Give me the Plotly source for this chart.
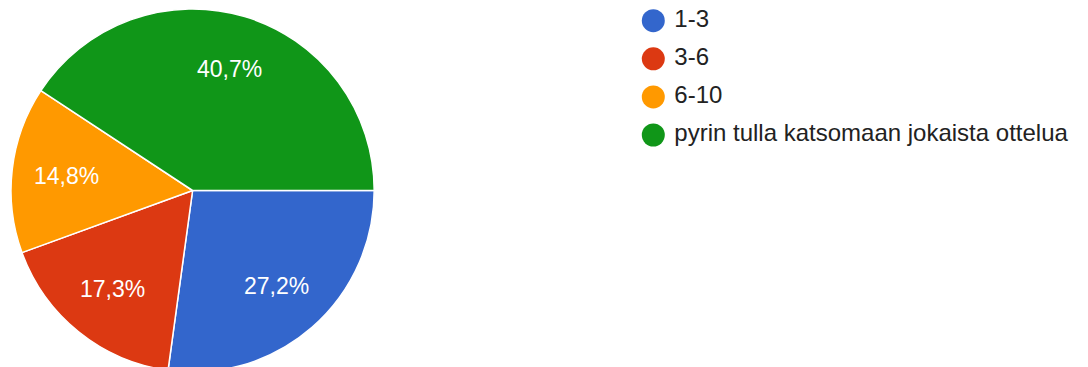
import math
import plotly.graph_objects as go

categories = ["1-3", "3-6", "6-10", "pyrin tulla katsomaan jokaista ottelua"]
counts = [22, 14, 12, 33]
colors = ["#3366CC", "#DC3912", "#FF9900", "#109618"]

total = sum(counts)
pct_text = [f"{c / total * 100:.1f}%".replace(".", ",") for c in counts]

W, H = 1088, 381
cx, cy, r = 192.6, 190.5, 181.6
label_frac = 0.70

fig = go.Figure()
fig.add_trace(go.Pie(
    labels=categories,
    values=counts,
    textinfo="none",
    marker=dict(colors=colors, line=dict(color="white", width=1.5)),
    sort=False,
    direction="clockwise",
    rotation=90,
    showlegend=False,
    hoverinfo="label+percent",
    domain=dict(x=[(cx - r) / W, (cx + r) / W], y=[0, 1]),
))

# percentage labels placed at the middle angle of each slice
cum = 0
for c, t in zip(counts, pct_text):
    mid = (cum + c / 2) / total * 2 * math.pi  # clockwise from 3 o'clock
    cum += c
    px = cx + label_frac * r * math.cos(mid)
    py = cy + label_frac * r * math.sin(mid)
    fig.add_annotation(
        x=px / W, y=1 - py / H, xref="paper", yref="paper",
        text=t, showarrow=False, xanchor="center", yanchor="middle",
        font=dict(family="Arial, Liberation Sans", size=23, color="white"),
    )

# legend drawn as markers + text on a pixel-mapped overlay axis
leg_x = 653.3
leg_y0 = 20.7
leg_dy = 38.1
ys = [leg_y0 + i * leg_dy for i in range(len(categories))]
fig.add_trace(go.Scatter(
    x=[leg_x] * len(categories), y=ys,
    mode="markers",
    marker=dict(size=23, color=colors, symbol="circle"),
    xaxis="x", yaxis="y", showlegend=False, hoverinfo="skip",
))
fig.add_trace(go.Scatter(
    x=[leg_x + 21] * len(categories), y=ys,
    mode="text",
    text=categories,
    textposition="middle right",
    textfont=dict(family="Arial, Liberation Sans", size=24, color="#222222"),
    xaxis="x", yaxis="y", showlegend=False, hoverinfo="skip",
))

fig.update_layout(
    width=W, height=H,
    margin=dict(l=0, r=0, t=0, b=0),
    paper_bgcolor="white", plot_bgcolor="rgba(0,0,0,0)",
    xaxis=dict(range=[0, W], domain=[0, 1], visible=False, fixedrange=True),
    yaxis=dict(range=[H, 0], domain=[0, 1], visible=False, fixedrange=True),
)

fig.write_html(
    "out.html",
    post_script="document.documentElement.style.overflow='hidden';document.body.style.overflow='hidden';document.body.style.margin='0';",
)
